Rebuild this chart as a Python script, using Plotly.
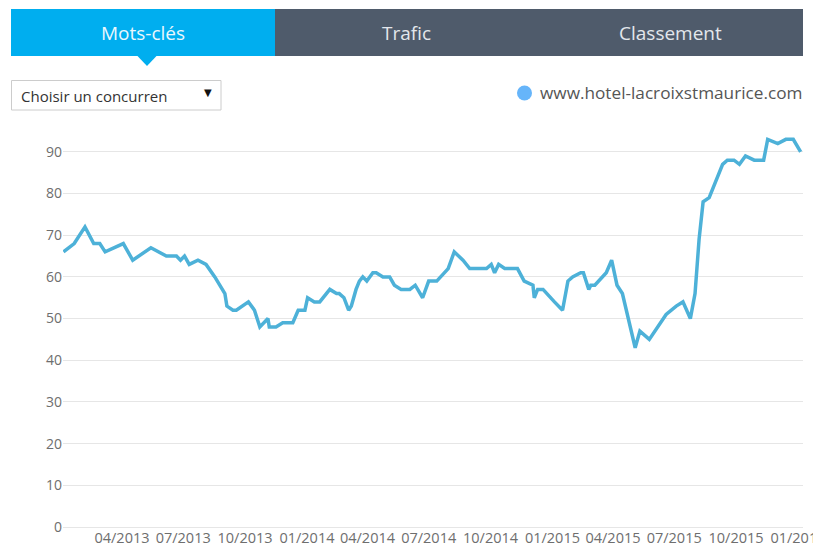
import plotly.graph_objects as go

# ---- data ----
dates = [
    "2013-01-04", "2013-01-20", "2013-02-05", "2013-02-18", "2013-02-27", "2013-03-07",
    "2013-04-03", "2013-04-17", "2013-05-14", "2013-06-06", "2013-06-21", "2013-06-27",
    "2013-07-03", "2013-07-10", "2013-07-23", "2013-08-04", "2013-08-17", "2013-09-01",
    "2013-09-04", "2013-09-13", "2013-09-18", "2013-10-06", "2013-10-15", "2013-10-23",
    "2013-11-04", "2013-11-06", "2013-11-16", "2013-11-26", "2013-12-11", "2013-12-19",
    "2013-12-29", "2014-01-02", "2014-01-12", "2014-01-20", "2014-02-04", "2014-02-14",
    "2014-02-18", "2014-02-25", "2014-03-04", "2014-03-08", "2014-03-15", "2014-03-20",
    "2014-03-25", "2014-03-31", "2014-04-09", "2014-04-14", "2014-04-24", "2014-05-04",
    "2014-05-11", "2014-05-21", "2014-06-03", "2014-06-11", "2014-06-22", "2014-07-01",
    "2014-07-13", "2014-07-30", "2014-08-08", "2014-08-21", "2014-08-31", "2014-09-25",
    "2014-10-02", "2014-10-07", "2014-10-13", "2014-10-22", "2014-11-10", "2014-11-20",
    "2014-12-03", "2014-12-05", "2014-12-10", "2014-12-18", "2015-01-04", "2015-01-16",
    "2015-01-24", "2015-01-31", "2015-02-12", "2015-02-16", "2015-02-24", "2015-02-27",
    "2015-03-05", "2015-03-22", "2015-03-30", "2015-04-07", "2015-04-15", "2015-04-25",
    "2015-05-04", "2015-05-11", "2015-05-25", "2015-06-19", "2015-07-04", "2015-07-14",
    "2015-07-25", "2015-08-01", "2015-08-07", "2015-08-13", "2015-08-22", "2015-09-11",
    "2015-09-18", "2015-09-28", "2015-10-06", "2015-10-15", "2015-10-28", "2015-11-11",
    "2015-11-17", "2015-12-02", "2015-12-14", "2015-12-25", "2016-01-05",
]
positions = [
    66, 68, 72, 68, 68, 66,
    68, 64, 67, 65, 65, 64,
    65, 63, 64, 63, 60, 56,
    53, 52, 52, 54, 52, 48,
    50, 48, 48, 49, 49, 52,
    52, 55, 54, 54, 57, 56,
    56, 55, 52, 53, 57, 59,
    60, 59, 61, 61, 60, 60,
    58, 57, 57, 58, 55, 59,
    59, 62, 66, 64, 62, 62,
    63, 61, 63, 62, 62, 59,
    58, 55, 57, 57, 54, 52,
    59, 60, 61, 61, 57, 58,
    58, 61, 64, 58, 56, 49,
    43, 47, 45, 51, 53, 54,
    50, 56, 69, 78, 79, 87,
    88, 88, 87, 89, 88, 88,
    93, 92, 93, 93, 90,
]
series_name = "www.hotel-lacroixstmaurice.com"
tabs = ["Mots-clés", "Trafic", "Classement"]
dropdown_label = "Choisir un concurren"

# ---- geometry helpers (pixels -> paper) ----
W, H = 813, 547
L, R, T, B = 63, 10, 131, 20
PW, PH = W - L - R, H - T - B


def px(x):
    return (x - L) / PW


def py(y):
    return (H - B - y) / PH


BLUE = "#00aeef"
DARK = "#4f5b6b"
LINE = "#4db1d8"
DOT = "#66b5fa"

fig = go.Figure()
fig.add_trace(go.Scatter(
    x=dates, y=positions, mode="lines",
    line=dict(color=LINE, width=3.5), showlegend=False,
    name=series_name,
))

shapes = [
    dict(type="rect", xref="paper", yref="paper", x0=px(11), x1=px(275), y0=py(56), y1=py(9),
         fillcolor=BLUE, line=dict(width=0), layer="below"),
    dict(type="rect", xref="paper", yref="paper", x0=px(275), x1=px(803), y0=py(56), y1=py(9),
         fillcolor=DARK, line=dict(width=0), layer="below"),
    dict(type="path", xref="paper", yref="paper",
         path=f"M {px(137)},{py(55.5)} L {px(157)},{py(55.5)} L {px(147)},{py(66)} Z",
         fillcolor=BLUE, line=dict(width=0), layer="below"),
    dict(type="rect", xref="paper", yref="paper", x0=px(11.5), x1=px(221), y0=py(110), y1=py(80.5),
         fillcolor="white", line=dict(color="#cccccc", width=1), layer="below"),
    dict(type="circle", xref="paper", yref="paper", x0=px(517), x1=px(532), y0=py(100.5), y1=py(85.5),
         fillcolor=DOT, line=dict(width=0), layer="below"),
]

annotations = [
    dict(text=tabs[0], x=px(143), y=py(32.5), xref="paper", yref="paper", showarrow=False,
         font=dict(family="Open Sans", size=19, color="#eaf7fd"), xanchor="center", yanchor="middle"),
    dict(text=tabs[1], x=px(406), y=py(32.5), xref="paper", yref="paper", showarrow=False,
         font=dict(family="Open Sans", size=19, color="#e3e7ec"), xanchor="center", yanchor="middle"),
    dict(text=tabs[2], x=px(670), y=py(32.5), xref="paper", yref="paper", showarrow=False,
         font=dict(family="Open Sans", size=19, color="#e3e7ec"), xanchor="center", yanchor="middle"),
    dict(text=dropdown_label, x=px(19), y=py(96), xref="paper", yref="paper", showarrow=False,
         font=dict(family="Open Sans", size=15, color="#333333"), xanchor="left", yanchor="middle"),
    dict(text="▼", x=px(208), y=py(93), xref="paper", yref="paper", showarrow=False,
         font=dict(family="DejaVu Sans", size=10, color="#111111"), xanchor="center", yanchor="middle"),
    dict(text=series_name, x=px(804), y=py(93), xref="paper", yref="paper", showarrow=False,
         font=dict(family="Open Sans", size=17.2, color="#555555"), xanchor="right", yanchor="middle"),
]

fig.update_layout(
    width=W, height=H,
    margin=dict(l=L, r=R, t=T, b=B, pad=0, autoexpand=False),
    paper_bgcolor="white", plot_bgcolor="white",
    font=dict(family="Open Sans", color="#6e6e6e"),
    shapes=shapes, annotations=annotations,
    showlegend=False,
    xaxis=dict(
        type="date", range=["2013-01-03 08:00", "2016-01-08 12:00"],
        tick0="2013-04-01", dtick="M3", tickformat="%m/%Y",
        showgrid=False, zeroline=False, showline=False, ticks="",
        automargin=False, ticklabeloverflow="allow",
        tickfont=dict(family="Open Sans", size=14.5, color="#6e6e6e"),
    ),
    yaxis=dict(
        range=[0, 95], tick0=0, dtick=10,
        showgrid=True, gridcolor="#e6e6e6", gridwidth=1,
        zeroline=True, zerolinecolor="#e6e6e6", zerolinewidth=1,
        showline=False, ticks="", automargin=False,
        tickfont=dict(family="Open Sans", size=14, color="#6e6e6e"),
    ),
)

fig.write_html("out.html")
